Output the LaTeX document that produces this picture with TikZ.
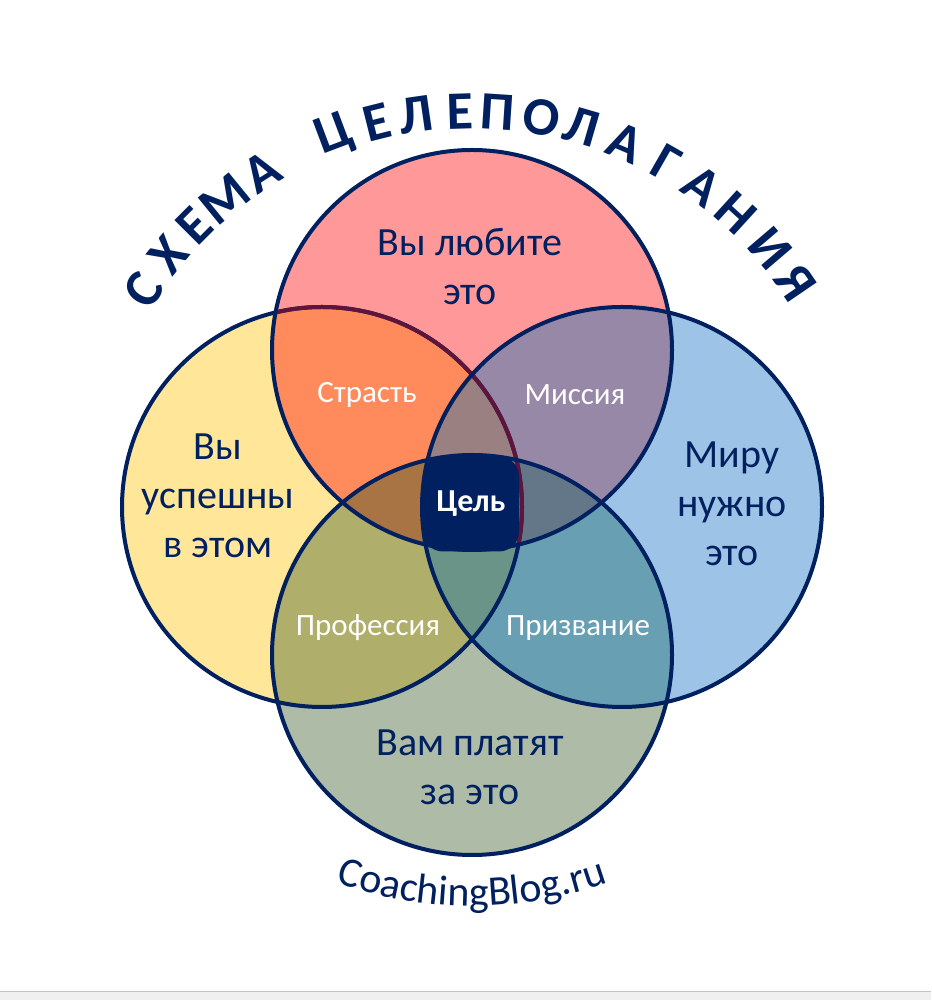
\documentclass[tikz,border=0pt]{standalone}
\usepackage{fontspec}
\setmainfont{Carlito}
\usetikzlibrary{decorations.text}
\definecolor{navy}{RGB}{0,32,96}
\definecolor{maroon}{RGB}{95,20,60}
\definecolor{cT}{RGB}{255,153,153}
\definecolor{cL}{RGB}{255,230,153}
\definecolor{cR}{RGB}{157,195,230}
\definecolor{cB}{RGB}{174,187,167}
\definecolor{cTL}{RGB}{255,138,91}
\definecolor{cTR}{RGB}{152,136,168}
\definecolor{cLB}{RGB}{175,174,107}
\definecolor{cRB}{RGB}{104,159,179}
\definecolor{cTLR}{RGB}{154,128,128}
\definecolor{cTLB}{RGB}{168,116,67}
\definecolor{cTRB}{RGB}{100,119,137}
\definecolor{cLRB}{RGB}{106,148,136}
\definecolor{barfill}{RGB}{240,240,240}
\definecolor{barline}{RGB}{195,195,195}
\tikzset{
  ring/.style={draw=navy, line width=4pt},
  biglabel/.style={text=navy, align=center, font=\fontsize{40}{49}\selectfont},
  seclabel/.style={text=white, font=\fontsize{31}{37}\selectfont},
  titlechar/.style={text=navy, font=\fontsize{54}{60}\selectfont\bfseries, inner sep=0pt},
  goalbox/.style={fill=navy, rounded corners=20pt, minimum width=96pt, minimum height=95pt, text=white, font=\fontsize{32}{38}\selectfont\bfseries}
}
\begin{document}
\begin{tikzpicture}[x=1pt,y=1pt]
\useasboundingbox (0,0) rectangle (931,1000);
\fill[white] (0,0) rectangle (931,1000);
\fill[barfill] (0,0) rectangle (931,8);
\draw[barline, line width=1pt] (0,8) -- (931,8);
\coordinate (C) at (472,497);
\coordinate (T) at (472,650);
\coordinate (L) at (322,493);
\coordinate (R) at (622,493);
\coordinate (B) at (472,345);
% base fills
\fill[cT] (T) circle[radius=200pt];
\fill[cL] (L) circle[radius=200pt];
\fill[cR] (R) circle[radius=200pt];
\fill[cB] (B) circle[radius=200pt];
% pairs
\begin{scope}
  \clip (T) circle[radius=200pt];
  \fill[cTL] (L) circle[radius=200pt];
  \fill[cTR] (R) circle[radius=200pt];
\end{scope}
\begin{scope}
  \clip (B) circle[radius=200pt];
  \fill[cLB] (L) circle[radius=200pt];
  \fill[cRB] (R) circle[radius=200pt];
\end{scope}
% triples
\begin{scope}
  \clip (L) circle[radius=200pt];
  \clip (R) circle[radius=200pt];
  \fill[cTLR] (T) circle[radius=200pt];
  \fill[cLRB] (B) circle[radius=200pt];
\end{scope}
\begin{scope}
  \clip (T) circle[radius=200pt];
  \clip (B) circle[radius=200pt];
  \fill[cTLB] (L) circle[radius=200pt];
  \fill[cTRB] (R) circle[radius=200pt];
\end{scope}
% outlines
\draw[ring] (L) circle[radius=200pt];
\begin{scope}
  \clip (T) circle[radius=200pt];
  \draw[ring, draw=maroon] (L) circle[radius=200pt];
\end{scope}
\draw[ring] (R) circle[radius=200pt];
\draw[ring] (T) circle[radius=200pt];
\draw[ring] (B) circle[radius=200pt];
% center
\node[goalbox] (goal) at (471,496) {Цель};
% labels
\node[biglabel] (love) at (470,733) {Вы любите\\это};
\node[biglabel] (good) at (218,504) {Вы\\успешны\\в этом};
\node[biglabel] (need) at (732,496) {Миру\\нужно\\это};
\node[biglabel] (paid) at (470,233) {Вам платят\\за это};
\node[seclabel] (passion) at (367,605) {Страсть};
\node[seclabel] (mission) at (575,605) {Миссия};
\node[seclabel] (profession) at (368,372) {Профессия};
\node[seclabel] (vocation) at (578,372) {Призвание};
% title along arc
\foreach \ch/\a [count=\i] in {С/147,Х/140.8,Е/135.1,М/129.2,А/122.4,Ц/110.6,Е/104.1,Л/98.2,Е/91.8,П/86.2,О/79.8,Л/73.8,А/66.9,Г/60.2,А/54.1,Н/47.6,И/40.5,Я/34.3}{
  \node[titlechar, rotate=\a-90] (title\i) at ([shift={(\a:392pt)}]C) {\ch};
}
% bottom text along arc
\path[postaction={decorate}, decoration={text along path, text align=center,
  text={|\fontsize{42}{48}\selectfont\color{navy}|CoachingBlog.ru}}]
  ([shift={(232:403pt)}]C) arc[start angle=232, end angle=308, radius=403pt];
\end{tikzpicture}
\end{document}
